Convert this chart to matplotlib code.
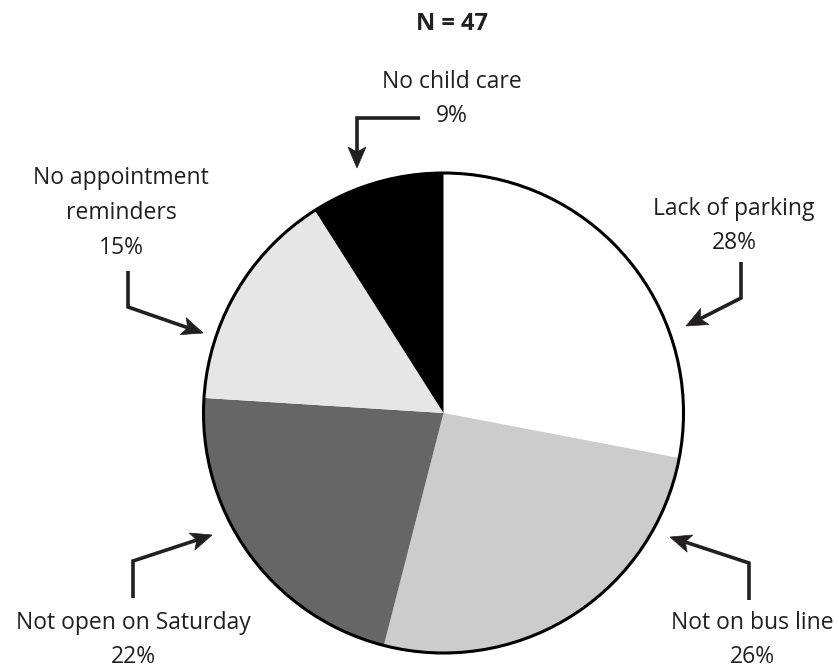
import matplotlib
matplotlib.use("Agg")
import matplotlib.pyplot as plt
from matplotlib.patches import Circle, Polygon
import numpy as np

plt.rcParams['font.family'] = ['Open Sans', 'DejaVu Sans']

# Survey data: barriers to attending appointments
categories = ["Lack of parking", "Not on bus line", "Not open on Saturday",
              "No appointment\nreminders", "No child care"]
percents = [28, 26, 22, 15, 9]
colors = ["#ffffff", "#cccccc", "#666666", "#e6e6e6", "#000000"]
sample_size = 47

W, H = 839, 672
INK = "#231f20"

fig = plt.figure(figsize=(W / 100, H / 100), dpi=100)
ax = fig.add_axes([0, 0, 1, 1])


def py(y):
    """Convert a top-down pixel row to the axes' y coordinate."""
    return H - y


cx, cy, r = 443.5, 413, 240
ax.pie(percents, colors=colors, startangle=90, counterclock=False,
       center=(cx, py(cy)), radius=r,
       wedgeprops=dict(linewidth=0, edgecolor="none"))
ax.add_patch(Circle((cx, py(cy)), r, fill=False, edgecolor="black", lw=2.2, zorder=5))

ax.set_xlim(0, W)
ax.set_ylim(0, H)
ax.set_aspect("equal", adjustable="box")
ax.axis("off")


def elbow_arrow(points, head_len=21, head_w=9, notch=5):
    pts = [(x, py(y)) for x, y in points]
    tip = np.array(pts[-1], float)
    prev = np.array(pts[-2], float)
    d = tip - prev
    d /= np.hypot(*d)
    n = np.array([-d[1], d[0]])
    base = tip - d * head_len
    shaft_end = tip - d * (head_len - notch)
    xs = [p[0] for p in pts[:-1]] + [shaft_end[0]]
    ys = [p[1] for p in pts[:-1]] + [shaft_end[1]]
    ax.plot(xs, ys, color=INK, lw=2.6, solid_capstyle="butt",
            solid_joinstyle="miter", zorder=6)
    head = [tip, base + n * head_w, shaft_end, base - n * head_w]
    ax.add_patch(Polygon(head, closed=True, facecolor=INK, edgecolor=INK,
                         lw=0.5, zorder=7))


label_fs = 16.5
spacing = 1.6


def label(x, y, text):
    ax.text(x, py(y), text, ha="center", va="center",
            fontsize=label_fs, color=INK, linespacing=spacing)


ax.text(452, py(24), f"N = {sample_size}", ha="center", va="center",
        fontsize=17, fontweight="bold", color=INK)

# Lack of parking
label(734, 226, f"{categories[0]}\n{percents[0]}%")
elbow_arrow([(741, 262), (741, 298), (686, 326)])

# Not on bus line
label(752, 640, f"{categories[1]}\n{percents[1]}%")
elbow_arrow([(749, 600), (749, 563), (670, 537)])

# Not open on Saturday
label(133, 640, f"{categories[2]}\n{percents[2]}%")
elbow_arrow([(133, 598), (133, 561), (212, 535)])

# No appointment reminders
label(121, 213, f"{categories[3]}\n{percents[3]}%")
elbow_arrow([(128, 271), (128, 307), (203, 333)])

# No child care
label(452, 99, f"{categories[4]}\n{percents[4]}%")
elbow_arrow([(420, 118), (357, 118), (357, 168)])

fig.savefig("out.png", dpi=100, facecolor="white")
